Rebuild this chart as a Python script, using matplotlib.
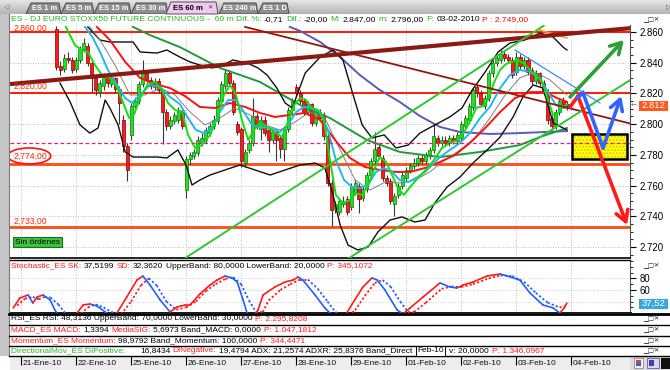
import matplotlib
matplotlib.use("Agg")
import matplotlib.pyplot as plt
import matplotlib.transforms as mtransforms
from matplotlib.patches import Rectangle, Ellipse, Polygon
from matplotlib.ticker import MultipleLocator
import numpy as np

FONT = ['Liberation Sans', 'DejaVu Sans']
plt.rcParams['font.family'] = FONT
FS = 6.0      # row / panel text size
FSH = 6.1     # header text size

# ---------------------------------------------------------------- data
day_labels = ['21-Ene-10', '22-Ene-10', '25-Ene-10', '26-Ene-10', '27-Ene-10', '28-Ene-10',
              '29-Ene-10', '01-Feb-10', '02-Feb-10', '03-Feb-10', '04-Feb-10']
day_start = [-9, 5, 19, 33, 47, 61, 75, 89, 103, 117, 131]

opens = [2862, 2838, 2836, 2843, 2842,
         2836, 2842, 2849, 2851, 2840, 2830, 2821, 2825, 2831, 2826, 2830, 2823, 2803, 2786,
         2793, 2812, 2815, 2826, 2833, 2829, 2824, 2828, 2822, 2808, 2799, 2802, 2803, 2808,
         2757, 2777, 2779, 2781, 2788, 2790, 2794, 2799, 2802, 2815, 2825, 2833, 2827, 2800,
         2797, 2775, 2783, 2788, 2805, 2797, 2803, 2796, 2790, 2795, 2791, 2784, 2797, 2809,
         2824, 2820, 2815, 2808, 2813, 2801, 2808, 2806, 2792, 2762, 2745, 2743, 2748, 2751,
         2746, 2756, 2760, 2752, 2758, 2767, 2776, 2785, 2778, 2765, 2763, 2748, 2754, 2760,
         2765, 2770, 2773, 2775, 2778, 2776, 2779, 2783, 2791, 2788, 2790, 2788, 2791, 2789,
         2791, 2799, 2803, 2811, 2824, 2820, 2812, 2817, 2833, 2840, 2842, 2846, 2844, 2842,
         2834, 2844, 2838, 2842, 2835, 2828, 2833, 2827, 2821, 2804, 2799, 2808, 2816, 2813]
closes = [2837, 2835, 2843, 2842, 2835,
          2842, 2849, 2853, 2840, 2830, 2822, 2827, 2831, 2827, 2830, 2823, 2814, 2786, 2770,
          2812, 2815, 2826, 2833, 2829, 2825, 2828, 2822, 2808, 2799, 2803, 2806, 2809, 2799,
          2777, 2780, 2782, 2790, 2791, 2796, 2799, 2803, 2816, 2826, 2833, 2827, 2808, 2795,
          2776, 2782, 2788, 2805, 2799, 2803, 2794, 2790, 2795, 2790, 2784, 2797, 2809, 2815,
          2820, 2815, 2808, 2813, 2801, 2808, 2804, 2792, 2762, 2744, 2748, 2750, 2750, 2743,
          2760, 2762, 2751, 2758, 2767, 2776, 2784, 2779, 2765, 2762, 2750, 2753, 2760, 2767,
          2770, 2773, 2775, 2778, 2776, 2780, 2783, 2792, 2788, 2790, 2788, 2791, 2789, 2793,
          2800, 2804, 2812, 2822, 2820, 2813, 2817, 2833, 2840, 2843, 2846, 2843, 2842, 2832,
          2844, 2838, 2842, 2834, 2828, 2833, 2827, 2821, 2803, 2799, 2808, 2815, 2813, 2812]
highs = [2864, 2841, 2846, 2847, 2844,
         2844, 2851, 2856, 2853, 2842, 2832, 2829, 2833, 2833, 2832, 2831, 2825, 2806, 2788,
         2814, 2818, 2828, 2842, 2835, 2831, 2830, 2830, 2823, 2810, 2805, 2808, 2811, 2810,
         2779, 2782, 2784, 2792, 2794, 2798, 2801, 2806, 2818, 2828, 2836, 2835, 2829, 2802,
         2798, 2784, 2790, 2817, 2807, 2805, 2805, 2798, 2797, 2797, 2793, 2799, 2811, 2817,
         2826, 2822, 2817, 2815, 2814, 2810, 2810, 2808, 2794, 2764, 2750, 2752, 2753, 2753,
         2762, 2764, 2762, 2760, 2769, 2778, 2795, 2787, 2780, 2767, 2765, 2755, 2762, 2769,
         2772, 2775, 2778, 2780, 2780, 2782, 2785, 2800, 2793, 2792, 2792, 2793, 2793, 2795,
         2802, 2806, 2814, 2824, 2826, 2822, 2819, 2835, 2842, 2845, 2848, 2848, 2846, 2844,
         2847, 2846, 2844, 2844, 2837, 2835, 2834, 2829, 2823, 2806, 2810, 2817, 2818, 2815]
lows = [2835, 2832, 2834, 2840, 2833,
        2834, 2840, 2847, 2838, 2821, 2819, 2818, 2822, 2824, 2824, 2820, 2800, 2782, 2763,
        2790, 2809, 2813, 2824, 2827, 2823, 2822, 2820, 2787, 2796, 2797, 2800, 2801, 2797,
        2752, 2774, 2777, 2779, 2786, 2788, 2792, 2797, 2800, 2813, 2823, 2825, 2806, 2793,
        2772, 2773, 2781, 2786, 2797, 2790, 2792, 2782, 2788, 2776, 2778, 2776, 2795, 2807,
        2818, 2813, 2806, 2806, 2799, 2799, 2802, 2790, 2760, 2734, 2742, 2741, 2746, 2741,
        2744, 2754, 2742, 2750, 2756, 2765, 2774, 2777, 2763, 2760, 2748, 2740, 2752, 2758,
        2763, 2768, 2771, 2773, 2774, 2774, 2777, 2781, 2786, 2786, 2786, 2786, 2787, 2787,
        2789, 2797, 2801, 2809, 2818, 2811, 2810, 2815, 2831, 2838, 2840, 2841, 2840, 2830,
        2832, 2836, 2836, 2832, 2826, 2826, 2825, 2819, 2800, 2796, 2797, 2806, 2811, 2809]

# moving averages / bands (bar index, price)
fast_x = [2.4, 4.7, 6.5, 8.0, 9.8, 11.6, 13.6, 15.4, 17.2, 18.5, 19.7, 21.3, 23.1, 25.1, 26.9, 28.4, 30.2, 32.0,
          33.5, 35.3, 37.0, 39.1, 40.9, 42.6, 44.2, 45.7, 47.2, 48.8, 50.3, 51.8, 53.8, 55.9, 57.4, 58.9, 60.5,
          62.0, 63.5, 65.0, 66.6, 68.1, 69.6, 71.1, 72.9, 74.7, 76.2, 77.8, 79.3, 80.8, 82.3, 83.9, 85.4, 86.9,
          88.4, 90.0, 92.0, 94.0, 96.1, 98.1, 100.1, 102.2, 103.7, 105.2, 106.8, 108.3, 109.8, 111.4, 112.9,
          114.4, 115.9, 117.5, 119.0, 120.5, 122.0, 123.6, 125.1, 126.4, 127.6, 128.9, 129.9]
fast_y = [2863.3, 2851.5, 2848.3, 2847.0, 2838.5, 2832.0, 2830.1, 2824.2, 2812.5, 2804.0, 2806.0, 2817.0,
          2825.5, 2827.5, 2822.2, 2813.8, 2809.2, 2807.9, 2793.0, 2784.5, 2786.4, 2793.0, 2804.0, 2819.0,
          2825.5, 2819.0, 2802.7, 2789.7, 2796.2, 2801.4, 2797.5, 2794.2, 2791.6, 2801.4, 2812.5, 2817.0,
          2815.7, 2810.5, 2809.2, 2802.7, 2776.7, 2753.9, 2748.7, 2750.6, 2755.2, 2753.9, 2760.4, 2770.2,
          2778.6, 2775.4, 2766.9, 2758.4, 2753.9, 2759.1, 2765.0, 2770.2, 2776.7, 2784.5, 2787.7, 2789.7,
          2794.9, 2801.4, 2810.5, 2811.8, 2815.7, 2827.5, 2835.3, 2839.2, 2840.5, 2841.8, 2839.2, 2835.3,
          2832.0, 2827.5, 2815.7, 2806.0, 2807.3, 2811.2, 2812.5]
cyan_x = [7.3, 9.3, 11.1, 13.1, 15.4, 17.5, 19.2, 21.3, 23.8, 26.4, 28.9, 31.4, 33.5, 35.5, 37.6, 39.6, 41.6,
          43.7, 45.7, 47.7, 49.8, 51.8, 54.4, 56.9, 58.9, 61.0, 63.0, 65.0, 67.1, 69.1, 71.1, 73.2, 75.2, 77.2,
          79.3, 81.3, 83.4, 85.4, 87.4, 89.5, 91.5, 93.5, 95.6, 97.6, 100.1, 102.7, 105.2, 107.8, 110.3, 112.9,
          115.4, 117.9, 120.5, 123.0, 125.1, 127.1, 128.6, 129.9]
cyan_y = [2863.3, 2856.1, 2847.0, 2835.3, 2825.5, 2817.0, 2813.8, 2819.0, 2825.5, 2824.2, 2817.7, 2813.1,
          2804.0, 2796.2, 2794.2, 2797.5, 2807.9, 2815.7, 2815.7, 2807.9, 2799.5, 2798.2, 2797.5, 2794.9,
          2799.5, 2807.9, 2811.2, 2810.5, 2807.9, 2796.2, 2776.7, 2763.6, 2759.1, 2758.4, 2760.4, 2768.9,
          2771.5, 2768.9, 2763.6, 2762.3, 2765.0, 2768.2, 2773.4, 2778.6, 2783.2, 2787.7, 2794.2, 2804.0,
          2811.2, 2823.5, 2832.0, 2835.3, 2834.0, 2830.1, 2820.9, 2812.5, 2810.5, 2810.5]
red_x = [10.3, 13.6, 17.5, 21.3, 25.1, 28.9, 32.7, 36.5, 40.4, 44.2, 48.0, 51.8, 55.6, 59.4, 63.2, 67.1, 70.9,
         74.7, 78.5, 82.3, 86.2, 90.0, 93.8, 97.6, 101.4, 105.2, 109.1, 112.9, 116.7, 120.5, 124.3, 127.4, 129.9]
red_y = [2863.3, 2854.8, 2840.5, 2830.1, 2826.1, 2823.5, 2818.3, 2811.2, 2810.5, 2813.8, 2811.2, 2807.3,
         2804.7, 2806.0, 2807.3, 2802.7, 2789.7, 2778.0, 2772.1, 2770.2, 2768.9, 2768.9, 2771.5, 2775.4,
         2779.9, 2787.7, 2797.5, 2807.9, 2817.0, 2820.9, 2820.9, 2817.0, 2814.4]
mid_x = [8.5, 11.1, 14.9, 18.7, 22.5, 26.4, 30.2, 34.0, 37.8, 41.6, 45.4, 49.3, 53.1, 56.9, 60.7, 64.5, 68.3,
         72.2, 76.0, 79.8, 83.6, 87.4, 91.3, 95.0, 98.9, 102.7, 106.5, 110.3, 114.2, 117.9, 121.8, 125.6, 129.9]
mid_y = [2863.3, 2854.8, 2838.5, 2819.0, 2819.0, 2823.5, 2819.0, 2807.9, 2799.5, 2804.0, 2810.5, 2806.0,
         2799.5, 2796.2, 2801.4, 2807.9, 2804.0, 2783.2, 2763.6, 2757.1, 2762.3, 2761.7, 2763.6, 2768.9,
         2776.7, 2783.2, 2791.0, 2804.0, 2819.0, 2830.1, 2834.0, 2828.8, 2819.0]
upper_x = [8.0, 11.1, 13.6, 19.5, 21.3, 25.6, 28.1, 31.4, 34.0, 36.5, 39.6, 42.1, 44.9, 48.5, 51.3, 53.6, 56.1,
           58.2, 60.0, 61.5, 63.3, 67.1, 70.4, 72.9, 75.5, 77.8, 80.3, 83.4, 86.4, 89.5, 92.5, 96.3, 100.1,
           103.2, 105.8, 109.1, 112.4, 115.4, 119.2, 123.0, 126.4, 128.9, 129.9]
upper_y = [2863.3, 2854.8, 2853.5, 2853.5, 2847.0, 2846.3, 2848.3, 2843.7, 2840.5, 2838.5, 2836.6, 2837.9,
           2841.8, 2839.8, 2836.6, 2832.0, 2823.5, 2813.8, 2810.5, 2820.9, 2833.3, 2843.7, 2848.3, 2841.8,
           2819.0, 2799.5, 2791.0, 2793.0, 2784.5, 2786.4, 2794.2, 2799.5, 2804.7, 2810.5, 2822.2, 2834.0,
           2847.0, 2852.8, 2854.8, 2859.3, 2856.7, 2850.2, 2848.3]
lower_x = [0.9, 3.5, 6.0, 8.5, 10.6, 12.4, 13.6, 15.7, 17.5, 19.5, 25.6, 28.1, 30.9, 33.0, 34.5, 36.5, 39.1,
           42.9, 46.7, 50.5, 54.4, 58.2, 62.0, 65.8, 68.3, 70.4, 72.2, 74.2, 76.7, 79.3, 81.8, 84.9, 87.9, 91.2,
           93.8, 96.3, 99.4, 102.7, 106.0, 109.6, 112.9, 116.2, 118.7, 121.3, 123.8, 126.4, 129.9]
lower_y = [2826.8, 2814.4, 2799.5, 2794.2, 2797.5, 2815.7, 2810.5, 2799.5, 2781.9, 2778.6, 2778.6, 2778.0,
           2783.2, 2773.4, 2760.4, 2763.6, 2766.9, 2770.2, 2773.4, 2770.2, 2766.9, 2770.2, 2773.4, 2774.7,
           2771.5, 2753.9, 2734.3, 2721.3, 2718.1, 2720.0, 2729.8, 2737.6, 2739.6, 2736.3, 2737.6, 2748.7,
           2759.1, 2765.6, 2774.7, 2783.2, 2791.6, 2804.7, 2817.7, 2825.5, 2823.5, 2800.8, 2796.2]
slow_x = [19.5, 23.8, 31.4, 41.6, 51.8, 62.0, 69.6, 79.0, 87.4, 97.6, 107.8, 117.9, 123.0, 129.9]
slow_y = [2863.3, 2858.0, 2850.2, 2836.6, 2827.5, 2812.5, 2804.0, 2789.7, 2781.9, 2778.6, 2781.9, 2786.4,
          2791.6, 2797.5]
long_x = [59.4, 62.0, 67.1, 72.2, 77.2, 82.3, 87.4, 92.5, 97.6, 102.7, 110.3, 117.9, 129.9]
long_y = [2863.3, 2860.7, 2853.5, 2843.7, 2832.0, 2822.2, 2814.4, 2805.3, 2798.2, 2794.9, 2793.6, 2794.2, 2795.5]
orange_x = [123.0, 129.9]
orange_y = [2861.3, 2856.1]

# drawn levels and trend lines
levels = [2860, 2820, 2774, 2733]
level_texts = ['2,860,00', '2,820,00', '2,774,00', '2,733,00']
dash_level = 2787.7
chan_up_x, chan_up_y = [33.0, 124.0], [2713.2, 2864.1]
chan_lo_x, chan_lo_y = [72.9, 146.0], [2710.3, 2828.7]
brown_up_x, brown_up_y = [-11.8, 146.5], [2826.1, 2862.6]
brown_dn_x, brown_dn_y = [48.0, 146.5], [2863.3, 2800.1]
blue_tl_x, blue_tl_y = [116.7, 138.3], [2848.3, 2813.8]
green_arrow_x, green_arrow_y = [130.7, 144.4], [2817.7, 2854.8]
blue_arrow_x, blue_arrow_y = [132.5, 134.0, 139.1, 143.7], [2817.0, 2820.3, 2784.5, 2818.3]
red_arrow_x, red_arrow_y = [130.7, 132.7, 145.2], [2811.2, 2818.3, 2734.4]
box_x, box_y = [131.2, 145.2], [2777.3, 2793.6]
last_price = '2.812'

# stochastic (bar index, value)
sk_x = [-11.0, -9.3, -7.2, -6.0, -4.9, -3.4, -1.6, -0.4, 1.4, 4.7, 6.8, 8.5, 10.3, 12.4, 14.1, 15.4, 17.9, 20.5,
        22.0, 23.8, 26.4, 28.9, 30.7, 32.7, 34.0, 36.5, 39.1, 40.9, 42.9, 44.7, 46.0, 47.5, 48.5, 49.8, 51.3,
        52.6, 55.6, 58.2, 60.2, 61.5, 62.7, 65.8, 68.3, 69.6, 71.4, 73.4, 75.9, 78.0, 80.3, 81.6, 83.6, 86.7,
        88.2, 90.0, 93.3, 97.6, 100.1, 101.9, 103.5, 106.0, 109.6, 112.9, 114.7, 117.9, 120.5, 123.8, 126.4,
        128.1, 129.2, 129.9]
sk_y = [29.0, 46.2, 51.4, 37.6, 47.9, 51.4, 42.8, 25.5, 8.3, 15.2, 34.1, 35.9, 32.4, 22.1, 15.2, 20.3, 47.9,
        77.2, 84.1, 68.6, 42.8, 22.1, 30.7, 34.1, 34.1, 53.1, 68.6, 77.2, 84.1, 80.7, 73.8, 42.8, 20.3, 11.7,
        25.5, 51.4, 65.2, 73.8, 77.2, 82.4, 77.2, 51.4, 29.0, 20.3, 8.3, 15.2, 42.8, 65.2, 80.7, 77.2, 60.0,
        25.5, 18.6, 29.0, 47.9, 72.1, 65.2, 63.4, 68.6, 73.8, 84.1, 87.6, 84.1, 77.2, 54.8, 34.1, 29.0, 20.3,
        29.0, 37.5]
sd_x = [-10, -8, -6, -4.5, -3, -1.5, 0.5, 2.5, 5.5, 8, 10, 12, 14, 16.5, 19, 21.5, 23.5, 25.5, 28, 30.5, 33,
        35.5, 38, 40.5, 43, 45, 47, 49, 50.8, 52.5, 54, 57, 59.5, 62, 64, 66.5, 69, 71, 73.5, 76, 78.5, 81, 83,
        85, 87.5, 89.5, 91, 94, 98, 100.5, 103, 106, 110, 113, 116, 119, 122, 125, 128, 129.9]
sd_y = [33, 45, 48, 44, 48, 47, 35, 18, 14, 30, 35, 30, 22, 18, 40, 68, 80, 68, 40, 26, 30, 40, 58, 70, 79, 82,
        70, 42, 22, 22, 42, 60, 70, 78, 78, 62, 40, 22, 12, 25, 50, 72, 77, 66, 40, 22, 22, 38, 62, 66, 65, 70,
        80, 85, 84, 74, 55, 38, 30, 32.4]
sk_last = '37,52'

# ---------------------------------------------------------------- layout helpers
W, H = 670, 370
fig = plt.figure(figsize=(W / 100, H / 100), dpi=100)
fig.patch.set_facecolor('white')
renderer = fig.canvas.get_renderer()


def rect_px(x0, y0, x1, y1):
    return [x0 / W, 1 - y1 / H, (x1 - x0) / W, (y1 - y0) / H]


XMIN, XMAX = -11.81, 145.95
PMIN, PMAX = 2712.87, 2864.56
SMIN, SMAX = 20.3, 111.7
RED, BLUE = '#ff1a1a', '#1f5fff'

top = fig.add_axes([0, 0, 1, 1], zorder=10)
top.set_xlim(0, W); top.set_ylim(H, 0); top.axis('off')
top.patch.set_alpha(0)

TOOLTIP = dict(boxstyle='square,pad=0.15', fc='white', ec='black', lw=0.7)


def seg_row(y, items, size):
    """Place coloured text segments from their x position, pushing a segment right if the previous one runs long."""
    cur = 0
    for item in items:
        x, s, col = item[:3]
        box = item[3] if len(item) > 3 else None
        xx = max(x, cur + (5 if box else 2.5))
        t = top.text(xx, y, s, fontsize=size, color=col, va='center', ha='left', zorder=3, bbox=box)
        cur = xx + t.get_window_extent(renderer).width + (3 if box else 0)


# ---------------------------------------------------------------- main price panel
ax = fig.add_axes(rect_px(10, 25, 630, 258), zorder=2)
ax.set_xlim(XMIN, XMAX)
ax.set_ylim(PMIN, PMAX)
ax.set_facecolor('white')
ax.spines['top'].set_visible(False)
ax.spines['left'].set_visible(False)
ax.spines['bottom'].set_linewidth(1.2)
ax.spines['right'].set_color('#505050')
ax.yaxis.tick_right()
pt = list(range(2720, 2861, 20))
ax.set_yticks(pt)
ax.set_yticklabels([f"{p // 1000}.{p % 1000:03d}" for p in pt])
ax.yaxis.set_minor_locator(MultipleLocator(5))
ax.tick_params(axis='y', which='major', length=4, width=0.8, labelsize=6.9, pad=3)
ax.tick_params(axis='y', which='minor', length=2, width=0.6)
ax.set_xticks([])

for t in day_start:
    ax.axvline(t, color='#a8a8a8', lw=0.6, ls=(0, (1, 2)), zorder=1)
for p in pt:
    ax.axhline(p, color='#a8a8a8', lw=0.6, ls=(0, (1, 2)), zorder=1)

# levels
ax.axhline(levels[0], color='#ff1a00', lw=1.4, zorder=2)
ax.axhline(levels[1], color='#ff1a00', lw=1.4, zorder=2)
ax.axhline(levels[2], color='#ff4a10', lw=2.0, zorder=2)
ax.axhline(levels[3], color='#ff4a10', lw=2.0, zorder=2)
ax.axhline(dash_level, color='#e0207a', lw=0.9, ls=(0, (3, 2)), zorder=6)
trans = mtransforms.blended_transform_factory(ax.transAxes, ax.transData)
lvl_y = [2862.2, 2824.8, 2779.3, 2737.0]
for txt, yv in zip(level_texts, lvl_y):
    ax.text(0.006, yv, txt, transform=trans, color='#ff2a00', fontsize=6.2, va='center', ha='left',
            zorder=7, clip_on=True)
ax.add_patch(Ellipse((-6.9, 2779.3), 10.9, 10.4, fill=False, ec='#ff1010', lw=1.2, zorder=7))

# trend lines
ax.plot(brown_up_x, brown_up_y, color='#8b1a14', lw=3.0, zorder=6, solid_capstyle='butt')
ax.plot(brown_dn_x, brown_dn_y, color='#8b1a14', lw=1.3, zorder=6)
ax.plot(chan_up_x, chan_up_y, color='#2ec82e', lw=1.4, zorder=6)
ax.plot(chan_lo_x, chan_lo_y, color='#2ec82e', lw=1.4, zorder=6)
ax.plot(blue_tl_x, blue_tl_y, color='#3090ff', lw=0.9, zorder=6)

# moving averages / bands
ax.plot(long_x, long_y, color='#5a5ab8', lw=1.4, zorder=4)
ax.plot(slow_x, slow_y, color='#1f9a3c', lw=1.4, zorder=4)
ax.plot(orange_x, orange_y, color='#ff9a30', lw=1.2, zorder=4)
ax.plot(upper_x, upper_y, color='#101010', lw=1.0, zorder=4)
ax.plot(lower_x, lower_y, color='#101010', lw=1.0, zorder=4)
ax.plot(mid_x, mid_y, color='#808080', lw=0.7, zorder=4)
ax.plot(red_x, red_y, color='#ff1010', lw=1.4, zorder=5)
ax.plot(cyan_x, cyan_y, color='#20b8f0', lw=1.4, zorder=5)
ax.plot(fast_x, fast_y, color='#10e010', lw=1.4, zorder=5)

# candles
idx = np.arange(len(opens))
o = np.array(opens, float)
c = np.array(closes, float)
up = c >= o
ax.vlines(idx, lows, highs, color='#383838', lw=0.8, zorder=3)
bot = np.minimum(o, c)
hgt = np.maximum(np.abs(c - o), 0.8)
ax.bar(idx[up], hgt[up], bottom=bot[up], width=0.78, color='#22e022', edgecolor='#0a7a0a', lw=0.5, zorder=3.5)
ax.bar(idx[~up], hgt[~up], bottom=bot[~up], width=0.78, color='#ff1818', edgecolor='#8a0000', lw=0.5, zorder=3.5)

# projection box and arrows
ax.add_patch(Rectangle((box_x[0], box_y[0]), box_x[1] - box_x[0], box_y[1] - box_y[0],
                       fc='#ffff10', ec='#d8c800', hatch='.....', lw=0, zorder=5))
ax.add_patch(Rectangle((box_x[0], box_y[0]), box_x[1] - box_x[0], box_y[1] - box_y[0],
                       fill=False, ec='black', lw=1.8, zorder=5.5))


def poly_arrow(xs, ys, color):
    if len(xs) > 2:
        ax.plot(xs[:-1], ys[:-1], color=color, lw=2.6, zorder=8, solid_capstyle='round',
                solid_joinstyle='miter')
    ax.annotate('', xy=(xs[-1], ys[-1]), xytext=(xs[-2], ys[-2]), zorder=8,
                arrowprops=dict(arrowstyle='->,head_length=0.55,head_width=0.32', color=color,
                                lw=2.6, mutation_scale=14, shrinkA=0, shrinkB=0))


poly_arrow(green_arrow_x, green_arrow_y, '#2e9e3a')
poly_arrow(red_arrow_x, red_arrow_y, '#ff1a1a')
poly_arrow(blue_arrow_x, blue_arrow_y, '#3264ff')

# ---------------------------------------------------------------- stochastic panel
sax = fig.add_axes(rect_px(10, 260, 630, 313), zorder=2)
sax.set_xlim(XMIN, XMAX)
sax.set_ylim(SMIN, SMAX)
sax.spines['left'].set_visible(False)
sax.spines['top'].set_linewidth(1.0)
sax.spines['bottom'].set_linewidth(2.0)
sax.spines['right'].set_color('#505050')
sax.yaxis.tick_right()
sax.set_yticks([60, 80])
sax.set_yticklabels(['60', '80'])
sax.yaxis.set_minor_locator(MultipleLocator(10))
sax.tick_params(axis='y', which='major', length=4, width=0.8, labelsize=6.9, pad=3)
sax.tick_params(axis='y', which='minor', length=2, width=0.6)
sax.set_xticks([])
for t in day_start:
    sax.axvline(t, color='#a8a8a8', lw=0.6, ls=(0, (1, 2)), zorder=1)
for v in (40, 60, 80):
    sax.axhline(v, color='#c0c0c0', lw=0.6, ls=(0, (1, 2)), zorder=1)


def slope_line(xs, ys, ls, lw):
    for k in range(len(xs) - 1):
        col = RED if ys[k + 1] >= ys[k] else BLUE
        sax.plot(xs[k:k + 2], ys[k:k + 2], color=col, lw=lw, ls=ls, zorder=3, solid_capstyle='round')


slope_line(sd_x, sd_y, (0, (1.2, 1.2)), 1.3)
slope_line(sk_x, sk_y, '-', 1.2)

# ---------------------------------------------------------------- date row
dax = fig.add_axes(rect_px(10, 356, 630, 370), zorder=2)
dax.set_xlim(XMIN, XMAX)
dax.set_ylim(0, 1)
dax.set_facecolor('#ededed')
for s in dax.spines.values():
    s.set_visible(False)
dax.set_xticks([]); dax.set_yticks([])
dax.vlines(day_start, 0.35, 1.0, color='black', lw=0.8)
for t, lab in zip(day_start, day_labels):
    dax.text(t + 0.3, 0.45, lab, fontsize=6.0, va='center', ha='left', color='#101010')

# ---------------------------------------------------------------- chrome (tabs, header, rows)
grad = np.linspace(0, 1, 30).reshape(-1, 1)
top.imshow(grad, extent=(0, W, 14, 0), aspect='auto', cmap=matplotlib.colors.LinearSegmentedColormap.from_list(
    'g', ['#e6e6e6', '#b4b4b4']), zorder=0)
top.text(4, 7.5, '\u25c1', fontsize=5, color='#606060', va='center', family='DejaVu Sans')
top.text(666, 7.5, '\u25b7', fontsize=5, color='#606060', va='center', family='DejaVu Sans')
tabs = [(26, 59, 'ES 1 m'), (61, 92, 'ES 5 m'), (94, 129, 'ES 15 m'), (131, 166, 'ES 30 m'),
        (219, 256, 'ES 240 m'), (258, 287, 'ES 1 D')]
for x0, x1, lab in tabs:
    top.add_patch(Polygon([(x0, 14), (x0 + 5, 3), (x1, 3), (x1 + 2, 14)], closed=True,
                          fc='#8e8e8e', ec='#4a4a4a', lw=0.7, zorder=1))
    top.text((x0 + x1) / 2 + 2, 8.5, lab, fontsize=5.4, color='white', ha='center', va='center',
             fontweight='bold', zorder=2)
top.add_patch(Polygon([(166, 14), (171, 2), (216, 2), (218, 14)], closed=True,
                      fc='#f2c8f2', ec='#505050', lw=0.7, zorder=3))
top.text(188, 8, 'ES 60 m', fontsize=5.6, color='black', ha='center', va='center', fontweight='bold', zorder=4)
top.text(209.5, 8, '\u2715', fontsize=4.5, color='#404040', ha='center', va='center', zorder=4, family='DejaVu Sans')

top.add_patch(Rectangle((0, 14), W, 11, fc='white', ec='none', zorder=1))
top.add_patch(Rectangle((0, 14), 9, 342, fc='#c6c6c6', ec='none', zorder=1))
top.plot([9, 9], [14, 356], color='#7a7a7a', lw=0.8, zorder=2)

GREEN_T = '#22b822'
header = [(11, 'ES - DJ EURO STOXX50 FUTURE CONTINUOUS -  60 m', GREEN_T), (203, 'Dif. %:', GREEN_T),
          (237, '-0,71', 'black'), (260, 'Dif.:', GREEN_T), (285, '-20,00', 'black'), (313, 'M:', GREEN_T),
          (324, '2.847,00', 'black'), (362, 'm:', GREEN_T), (375, '2.796,00', 'black'),
          (413, 'F:', GREEN_T), (425, '03-02-2010', 'black'), (470, 'P : 2.749,00', '#ff0000')]
seg_row(19.5, header, FSH)


def win_icons(y):
    top.text(643, y, '\u2581\u25a1\u2715', fontsize=4.6, color='#202020', va='center', ha='left',
             family='DejaVu Sans', zorder=4)


win_icons(20)
win_icons(266)

stoch_title = [(11, 'Stochastic_ES SK:', RED), (80, '37,5199', 'black'), (115, 'SD:', RED),
               (128, '32,3620', 'black'), (162, 'UpperBand: 80,0000 LowerBand: 20,0000', 'black'),
               (320, 'P: 345,1072', RED)]
seg_row(266, stoch_title, FS)

# info rows
top.add_patch(Rectangle((9, 313), W - 9, 43, fc='white', ec='none', zorder=1))
for yl, lw in [(313.5, 2.0), (324.5, 1.0), (335.5, 1.0), (346, 1.0), (356, 1.0)]:
    top.plot([9, W], [yl, yl], color='black', lw=lw, zorder=2)
rows = [
    (319, [(11, 'RSI_ES RSI: 48,3136 UpperBand: 70,0000 LowerBand: 30,0000', 'black'),
           (247, 'P: 2.295,8208', RED)]),
    (330, [(11, 'MACD_ES MACD:', RED), (75, '1,3394', 'black'), (98, 'MediaSIG:', RED),
           (137, '5,6973 Band_MACD: 0,0000', 'black'), (238, 'P: 1.047,1812', RED)]),
    (340.8, [(11, 'Momentum_ES Momentum:', RED), (100, '98,9792 Band_Momentum: 100,0000', 'black'),
             (233, 'P: 344,4471', RED)]),
    (351, [(11, 'DirectionalMov_ES DIPositive:', GREEN_T), (140, '16,8434', 'black'), (168, 'DINegative:', RED),
           (212, '19,4794 ADX: 21,2574 ADXR: 25,8376 Band_Direct', 'black'), (407, 'Feb-10', 'black', TOOLTIP),
           (432, 'v: 20,0000', 'black'), (477, 'P: 1.346,0967', RED)]),
]
for y, items in rows:
    seg_row(y, items, FS)
    win_icons(y)

# date row right icons
top.add_patch(Rectangle((630, 356), 40, 14, fc='#dcdcdc', ec='none', zorder=1))
top.add_patch(Rectangle((634, 358), 9, 10, fc='#f0f0f0', ec='#808080', lw=0.5, zorder=2))
top.add_patch(Rectangle((636, 360), 5, 3, fc='#e04040', ec='none', zorder=3))
top.add_patch(Rectangle((636, 363), 5, 3, fc='#3060d0', ec='none', zorder=3))
top.add_patch(Rectangle((647, 358), 12, 10, fc='#d8d8f0', ec='#6060a0', lw=0.6, zorder=2))
top.add_patch(Rectangle((649, 359.5), 5, 6, fc='#4040b0', ec='none', zorder=3))
top.add_patch(Rectangle((661, 358), 9, 11, fc='#101010', ec='none', zorder=2))

# price and stochastic value tags
top.add_patch(Rectangle((639, 100.5), 29, 10.5, fc='#ff5a1e', ec='none', zorder=4))
top.text(653.5, 106, last_price, fontsize=6.8, color='white', ha='center', va='center', zorder=5)
top.text(634, 106, '\u2190', fontsize=5, color='#707070', ha='center', va='center', zorder=5,
         family='DejaVu Sans')
top.add_patch(Rectangle((639, 298.5), 29, 10, fc='#38a8e0', ec='none', zorder=4))
top.text(653.5, 303.5, sk_last, fontsize=6.8, color='white', ha='center', va='center', zorder=5)

# "Sin órdenes" button
top.add_patch(Rectangle((13, 237), 49, 10, fc='#3cc43c', ec='#1e6e1e', lw=0.8, zorder=4))
top.text(37.5, 242, 'Sin órdenes', fontsize=FS, color='black', ha='center', va='center', zorder=5)

fig.savefig('out.png', dpi=100)
